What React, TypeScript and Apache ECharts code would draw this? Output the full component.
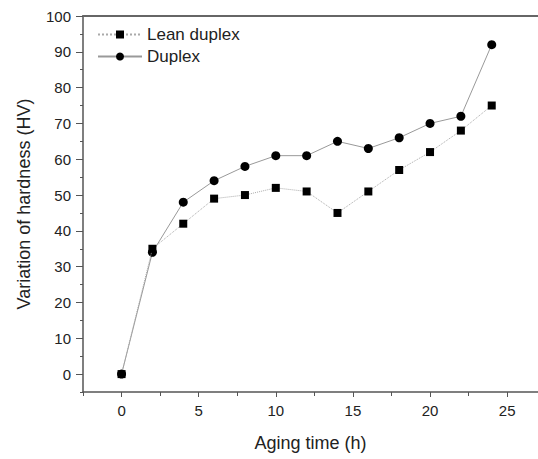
import React, { useEffect, useRef } from "react";
import * as echarts from "echarts";

const times = [0, 2, 4, 6, 8, 10, 12, 14, 16, 18, 20, 22, 24];
const leanDuplex = [0, 35, 42, 49, 50, 52, 51, 45, 51, 57, 62, 68, 75];
const duplex = [0, 34, 48, 54, 58, 61, 61, 65, 63, 66, 70, 72, 92];
const xMajor = [0, 5, 10, 15, 20, 25];
const xMinor = [-2.5, 2.5, 7.5, 12.5, 17.5, 22.5];
const yMajor = [0, 10, 20, 30, 40, 50, 60, 70, 80, 90, 100];
const yMinor = [-5, 5, 15, 25, 35, 45, 55, 65, 75, 85, 95];

export default function App() {
  const ref = useRef<HTMLDivElement>(null);
  useEffect(() => {
    const chart = echarts.init(ref.current!, null, { renderer: "svg" });
    const axisColor = "#555";
    const font = "Liberation Sans, Arial, sans-serif";
    chart.setOption({
      animation: false,
      backgroundColor: "#fff",
      textStyle: { fontFamily: font },
      grid: { left: 83, top: 16, right: 0, bottom: 67 },
      legend: {
        orient: "vertical",
        left: 97,
        top: 26,
        padding: 0,
        itemWidth: 44,
        itemHeight: 10,
        itemGap: 5,
        textStyle: { fontSize: 17, color: "#222", fontFamily: font },
        data: ["Lean duplex", "Duplex"],
      },
      xAxis: [
        {
          type: "value",
          min: -2.5,
          max: 27,
          name: "Aging time (h)",
          nameLocation: "middle",
          nameGap: 42,
          nameTextStyle: { fontSize: 18, color: "#222", fontFamily: font },
          axisLine: { onZero: false, lineStyle: { color: axisColor, width: 1.5 } },
          axisTick: { show: true, inside: false, length: 5, lineStyle: { color: axisColor }, customValues: xMajor },
          axisLabel: { fontSize: 15, color: "#222", margin: 11, customValues: xMajor },
          splitLine: { show: false },
        },
        {
          type: "value",
          position: "bottom",
          min: -2.5,
          max: 27,
          axisLine: { show: false, onZero: false },
          axisTick: { show: true, length: 4, lineStyle: { color: axisColor }, customValues: xMinor },
          axisLabel: { show: false },
          splitLine: { show: false },
        },
        {
          type: "value",
          position: "top",
          min: -2.5,
          max: 27,
          axisLine: { show: true, onZero: false, lineStyle: { color: "#666", width: 2 } },
          axisTick: { show: false },
          axisLabel: { show: false },
          splitLine: { show: false },
        },
      ],
      yAxis: [
        {
          type: "value",
          min: -5,
          max: 100,
          name: "Variation of hardness (HV)",
          nameLocation: "middle",
          nameGap: 50,
          nameTextStyle: { fontSize: 18, color: "#222", fontFamily: font },
          axisLine: { show: true, onZero: false, lineStyle: { color: axisColor, width: 1.5 } },
          axisTick: { show: true, length: 7, lineStyle: { color: axisColor }, customValues: yMajor },
          axisLabel: { fontSize: 15, color: "#222", margin: 12, customValues: yMajor },
          splitLine: { show: false },
        },
        {
          type: "value",
          position: "left",
          min: -5,
          max: 100,
          axisLine: { show: false, onZero: false },
          axisTick: { show: true, length: 3, lineStyle: { color: axisColor }, customValues: yMinor },
          axisLabel: { show: false },
          splitLine: { show: false },
        },
      ],
      series: [
        {
          name: "Lean duplex",
          type: "line",
          data: times.map((t, i) => [t, leanDuplex[i]]),
          symbol: "rect",
          symbolSize: 8,
          itemStyle: { color: "#000" },
          lineStyle: { color: "#aaa", width: 1, type: "dotted" },
          z: 3,
        },
        {
          name: "Duplex",
          type: "line",
          data: times.map((t, i) => [t, duplex[i]]),
          symbol: "circle",
          symbolSize: 9,
          itemStyle: { color: "#000" },
          lineStyle: { color: "#999", width: 1 },
          z: 2,
        },
      ],
    });
    return () => chart.dispose();
  }, []);
  return <div ref={ref} style={{ width: 538, height: 459, position: "absolute", left: 0, top: 0 }} />;
}
